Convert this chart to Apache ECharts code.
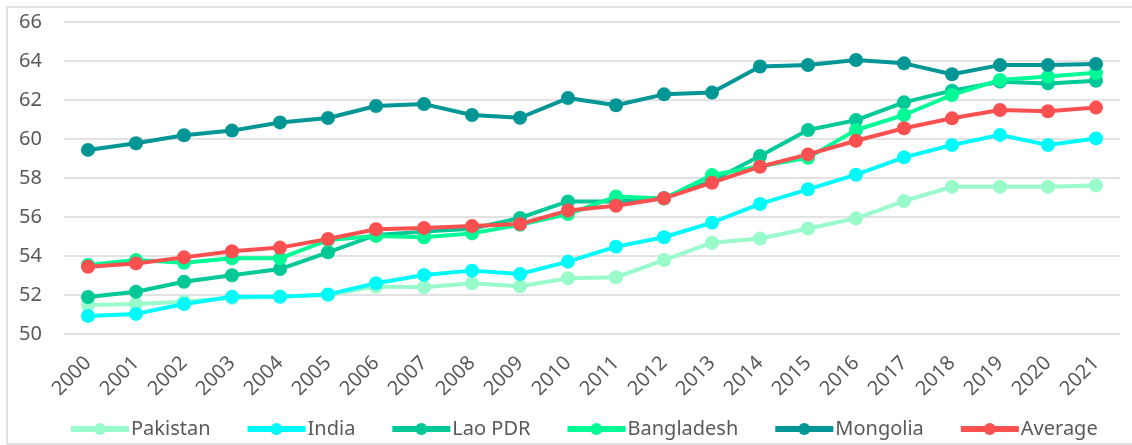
<!DOCTYPE html>
<html>
<head>
<meta charset="utf-8">
<script src="https://cdn.jsdelivr.net/npm/echarts@6/dist/echarts.min.js"></script>
<style>
  html, body { margin: 0; padding: 0; background: #fff; }
  #chart { width: 1132px; height: 445px; }
</style>
</head>
<body>
<div id="chart"></div>
<script>
var years = ['2000', '2001', '2002', '2003', '2004', '2005', '2006', '2007', '2008', '2009', '2010',
  '2011', '2012', '2013', '2014', '2015', '2016', '2017', '2018', '2019', '2020', '2021']

var pakistan = [51.49, 51.54, 51.65, 51.85, 51.92, 52.0, 52.43, 52.4, 52.6, 52.45, 52.86,
  52.91, 53.79, 54.68, 54.9, 55.41, 55.93, 56.82, 57.55, 57.55, 57.55, 57.62]
var india = [50.92, 51.03, 51.54, 51.91, 51.91, 52.03, 52.6, 53.03, 53.25, 53.08, 53.71,
  54.48, 54.96, 55.71, 56.67, 57.42, 58.17, 59.06, 59.69, 60.21, 59.69, 60.03]
var lao = [51.9, 52.17, 52.68, 53.01, 53.33, 54.19, 55.08, 55.25, 55.4, 55.95, 56.8,
  56.8, 56.98, 57.85, 59.13, 60.46, 60.97, 61.88, 62.48, 62.94, 62.85, 62.99]
var bangladesh = [53.54, 53.79, 53.65, 53.88, 53.88, 54.82, 55.03, 54.96, 55.16, 55.6, 56.15,
  57.05, 56.95, 58.15, 58.6, 59.04, 60.46, 61.23, 62.26, 63.03, 63.2, 63.4]
var mongolia = [59.44, 59.78, 60.19, 60.43, 60.85, 61.08, 61.69, 61.79, 61.23, 61.09, 62.1,
  61.73, 62.29, 62.38, 63.72, 63.79, 64.05, 63.88, 63.32, 63.79, 63.79, 63.85]
var average = [53.45, 53.62, 53.93, 54.24, 54.43, 54.87, 55.37, 55.44, 55.54, 55.64, 56.33,
  56.58, 56.96, 57.76, 58.58, 59.21, 59.91, 60.55, 61.06, 61.49, 61.42, 61.61]

var names = ['Pakistan', 'India', 'Lao PDR', 'Bangladesh', 'Mongolia', 'Average']
var colors = ['#99FACC', '#00FAFA', '#00C896', '#00FA96', '#009696', '#FA5050']
var values = [pakistan, india, lao, bangladesh, mongolia, average]

var fontName = '"Noto Sans", sans-serif'

var myChart = echarts.init(document.getElementById('chart'))

var series = []
for (var i = 0; i < names.length; i++) {
  series.push({
    name: names[i],
    type: 'line',
    data: values[i],
    symbol: 'circle',
    symbolSize: 14,
    lineStyle: { width: 4, color: colors[i] },
    itemStyle: { color: colors[i] },
    emphasis: { disabled: true }
  })
}

var option = {
  animation: false,
  color: colors,
  graphic: [{
    type: 'rect',
    shape: { x: 7, y: 7, width: 1130, height: 437 },
    style: { fill: 'none', stroke: '#d9d9d9', lineWidth: 1.5 },
    silent: true
  }],
  grid: {
    left: 64,
    right: 12,
    top: 22,
    bottom: 111
  },
  legend: {
    bottom: 6,
    left: 68,
    padding: 0,
    itemWidth: 58,
    itemHeight: 15,
    itemGap: 34,
    lineStyle: { width: 6 },
    textStyle: { fontSize: 20, color: '#595959', fontFamily: fontName, padding: [0, 0, 0, -3] },
    data: names
  },
  xAxis: {
    type: 'category',
    data: years,
    boundaryGap: true,
    axisLine: { show: false },
    axisTick: { show: false },
    axisLabel: {
      rotate: 45,
      fontSize: 20,
      color: '#595959',
      fontFamily: fontName,
      margin: 26,
      interval: 0
    }
  },
  yAxis: {
    type: 'value',
    min: 50,
    max: 66,
    interval: 2,
    axisLine: { show: false },
    axisTick: { show: false },
    splitLine: { lineStyle: { color: '#d9d9d9', width: 1.5 } },
    axisLabel: {
      fontSize: 20,
      color: '#595959',
      fontFamily: fontName,
      margin: 22
    }
  },
  series: series
}

myChart.setOption(option)
</script>
</body>
</html>
